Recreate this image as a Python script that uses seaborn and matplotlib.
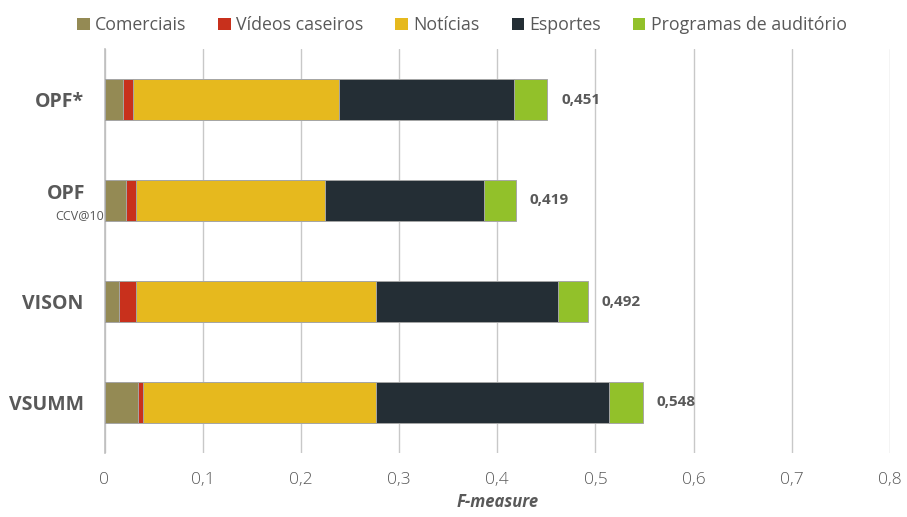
import matplotlib
matplotlib.use("Agg")
import matplotlib.pyplot as plt
import matplotlib.transforms as mtransforms
from matplotlib.patches import Patch
import numpy as np
import pandas as pd
import seaborn as sns

categories = ["OPF*", "OPF", "VISON", "VSUMM"]
series_names = ["Comerciais", "Vídeos caseiros", "Notícias", "Esportes", "Programas de auditório"]
comerciais = [0.019, 0.022, 0.015, 0.034]
videos_caseiros = [0.010, 0.010, 0.017, 0.005]
noticias = [0.210, 0.193, 0.245, 0.238]
esportes = [0.178, 0.162, 0.185, 0.237]
programas = [0.034, 0.032, 0.030, 0.034]
totals = [0.451, 0.419, 0.492, 0.548]
total_labels = ["0,451", "0,419", "0,492", "0,548"]
xticks = [0, 0.1, 0.2, 0.3, 0.4, 0.5, 0.6, 0.7, 0.8]
xtick_labels = ["0", "0,1", "0,2", "0,3", "0,4", "0,5", "0,6", "0,7", "0,8"]
colors = ["#948A54", "#C8301C", "#E6B91E", "#242E35", "#92C12A"]

sns.set_theme(style="white")
plt.rcParams["font.family"] = ["Open Sans", "DejaVu Sans"]

gray = "#595959"
df = pd.DataFrame({"cat": categories, "Comerciais": comerciais, "Vídeos caseiros": videos_caseiros,
                   "Notícias": noticias, "Esportes": esportes, "Programas de auditório": programas})
cum = df[series_names].cumsum(axis=1)

fig = plt.figure(figsize=(9.07, 5.17), dpi=100)
ax = fig.add_axes([104.5 / 907, 1 - 453 / 517, (890 - 104.5) / 907, (453 - 49) / 517])

# draw cumulative layers from back (largest) to front
for name, col in reversed(list(zip(series_names, colors))):
    sns.barplot(x=cum[name], y=df["cat"], orient="h", color=col, width=0.4,
                edgecolor="#A6A6A6", linewidth=0.7, saturation=1, ax=ax, zorder=3)

ax.set_xlim(0, 0.8)
ax.set_ylim(3.5, -0.5)
ax.set_xticks(xticks)
ax.set_xticklabels(xtick_labels, fontsize=12.5, color=gray, fontweight="light")
ax.tick_params(axis="x", length=0, pad=14)
ax.grid(axis="x", color="#C8C8C8", linewidth=1, zorder=0)
ax.grid(axis="y", visible=False)
ax.set_axisbelow(True)
for s in ["top", "right", "bottom"]:
    ax.spines[s].set_visible(False)
ax.spines["left"].set_color("#BFBFBF")
ax.spines["left"].set_linewidth(1.2)

ax.set_yticks(range(len(categories)))
ylabels = [c if c != "OPF" else "" for c in categories]
ax.set_yticklabels(ylabels, fontsize=14, fontweight="bold", color=gray)
ax.tick_params(axis="y", length=0, pad=15)
ax.set_yticks([0.5, 1.5, 2.5, 3.5], minor=True)
ax.tick_params(axis="y", which="minor", length=6, color="#BFBFBF", width=1)

trans = mtransforms.blended_transform_factory(ax.transAxes, ax.transData)
offset = mtransforms.ScaledTranslation(-19 / 100, 0, fig.dpi_scale_trans)
ax.text(0, 0.94, "OPF", transform=trans + offset, ha="right", va="center",
        fontsize=14, fontweight="bold", color=gray)
offset2 = mtransforms.ScaledTranslation(-1 / 100, 0, fig.dpi_scale_trans)
ax.text(0, 1.15, "CCV@10", transform=trans + offset2, ha="right", va="center",
        fontsize=9, color=gray)

for i, (t, lab) in enumerate(zip(totals, total_labels)):
    ax.text(t + 0.0142, i, lab, ha="left", va="center", fontsize=11,
            fontweight="bold", color=gray)

ax.set_ylabel("")
ax.set_xlabel("F-measure", fontsize=12, fontweight="bold", fontstyle="italic", color=gray, labelpad=3)

handles = [Patch(facecolor=c, edgecolor="none", label=n) for n, c in zip(series_names, colors)]
fig.legend(handles=handles, loc="center", bbox_to_anchor=(462 / 907, 1 - 25 / 517), ncol=5,
           frameon=False, fontsize=12.8, handlelength=0.7, handleheight=0.7,
           handletextpad=0.3, columnspacing=1.8, labelcolor=gray)

fig.savefig("out.png", dpi=100)
